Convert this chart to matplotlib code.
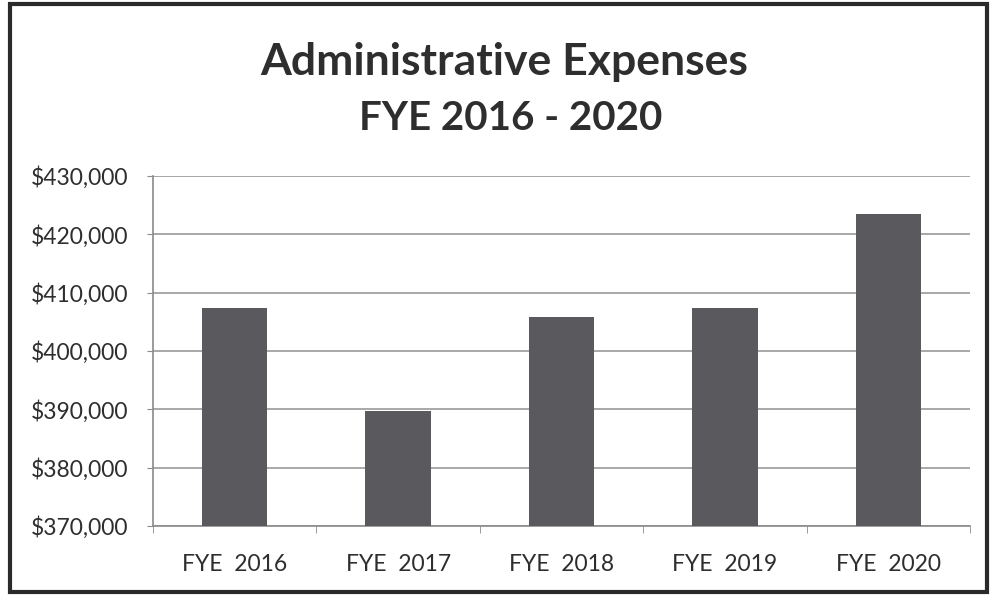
import matplotlib
matplotlib.use("Agg")
import matplotlib.pyplot as plt
from matplotlib.patches import Rectangle
from matplotlib.ticker import FuncFormatter

years = ["FYE  2016", "FYE  2017", "FYE  2018", "FYE  2019", "FYE  2020"]
expenses = [407400, 389800, 405800, 407400, 423500]
y_ticks = [370000, 380000, 390000, 400000, 410000, 420000, 430000]

plt.rcParams['font.family'] = ['Lato', 'DejaVu Sans']

W, H = 992, 596
fig = plt.figure(figsize=(W / 100, H / 100), dpi=100)

# outer frame around the whole chart
fig.patches.append(Rectangle((10 / W, 4 / H), 977 / W, 588 / H,
                             transform=fig.transFigure, fill=False,
                             edgecolor="#2a2a2a", linewidth=3))

ax = fig.add_axes([153 / W, 70 / H, 817 / W, 350 / H])
x = range(len(years))
ax.bar(x, expenses, width=0.4, color="#5a595d", zorder=3)

ax.set_ylim(y_ticks[0], y_ticks[-1])
ax.set_xlim(-0.5, len(years) - 0.5)
ax.set_yticks(y_ticks)
ax.yaxis.set_major_formatter(FuncFormatter(lambda v, p: "${:,.0f}".format(v)))
ax.grid(axis="y", color="#9a9a9a", linewidth=1.2, zorder=0)

# category labels centred under bars, tick marks on category boundaries
ax.set_xticks(list(x))
ax.set_xticklabels(years)
ax.set_xticks([i - 0.5 for i in range(len(years) + 1)], minor=True)
ax.tick_params(axis="x", which="major", length=0, pad=20,
               labelsize=16.5, labelcolor="#2e2e2e")
ax.tick_params(axis="x", which="minor", length=5, color="#8a8a8a",
               direction="out")
ax.tick_params(axis="y", length=4, color="#8a8a8a", pad=14,
               labelsize=16.5, labelcolor="#2e2e2e")

for side in ["top", "right"]:
    ax.spines[side].set_visible(False)
ax.spines["left"].set_color("#8a8a8a")
ax.spines["bottom"].set_color("#8a8a8a")
ax.spines["left"].set_linewidth(1.2)
ax.spines["bottom"].set_linewidth(1.2)

fig.text(0.508, 1 - 62 / H, "Administrative Expenses", ha="center",
         va="center", fontsize=32, fontweight="bold", color="#2e2e2e")
fig.text(0.515, 1 - 119 / H, "FYE 2016 - 2020", ha="center",
         va="center", fontsize=29, fontweight="bold", color="#2e2e2e")

fig.savefig("out.png", dpi=100, facecolor="white")
